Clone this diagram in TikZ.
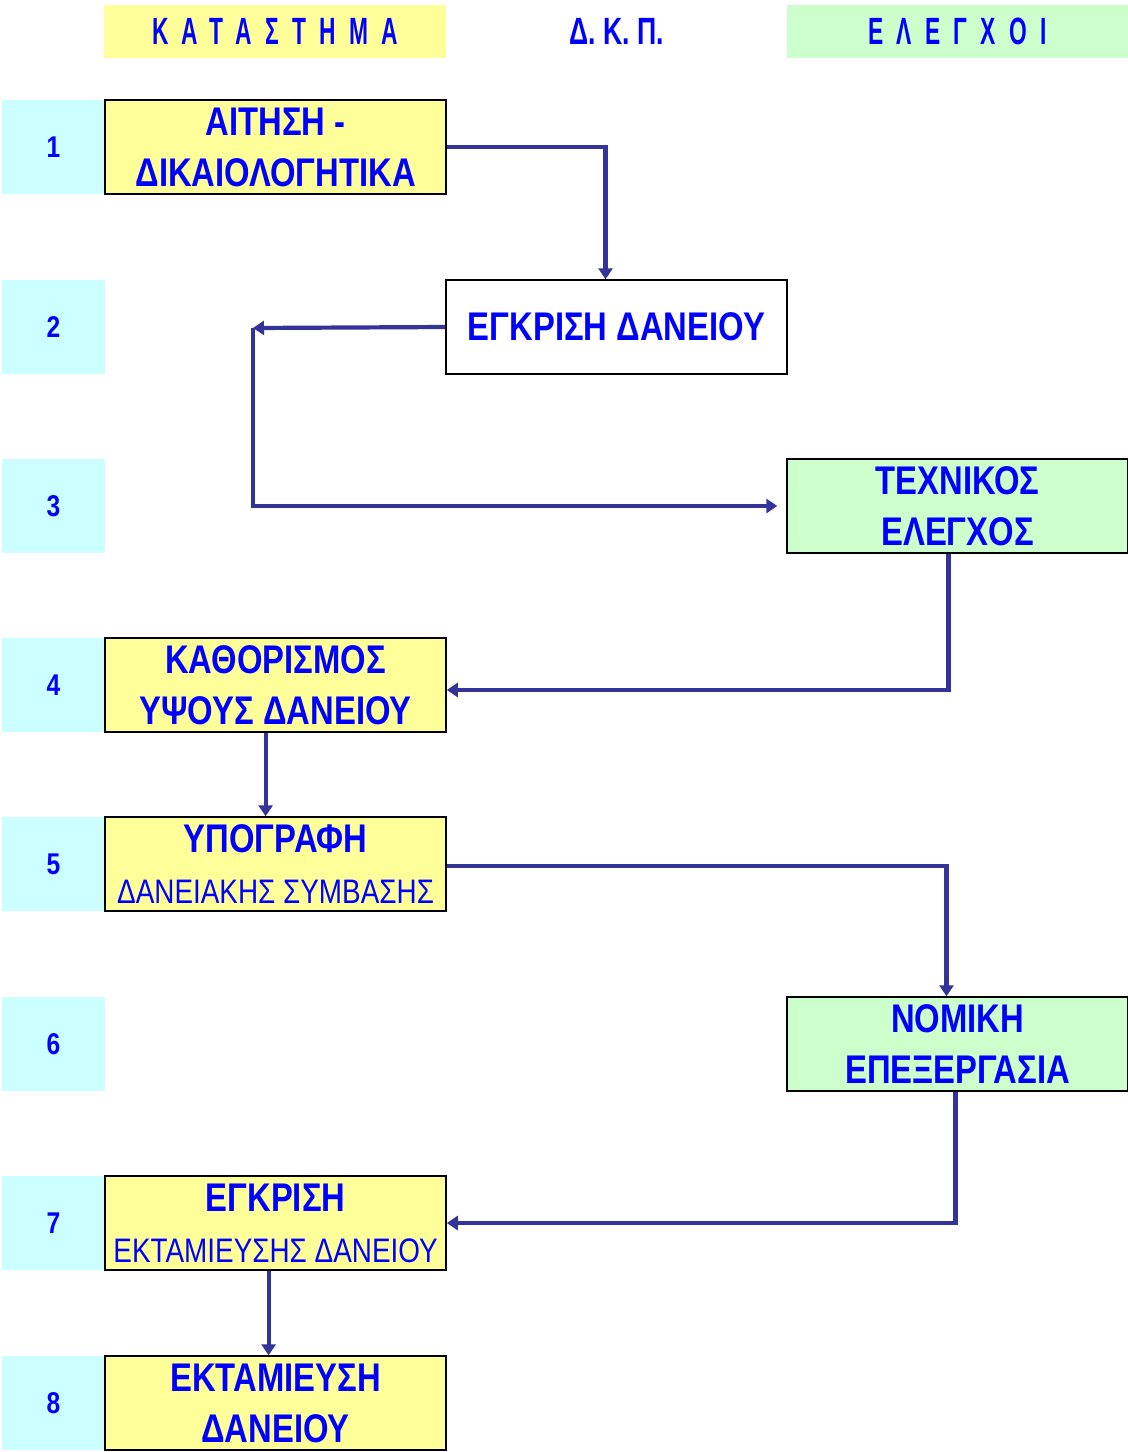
\documentclass[tikz,border=0pt]{standalone}
\usepackage{fontspec}
\setmainfont{Liberation Sans}[FakeStretch=0.82]
\newfontfamily\headfont{Liberation Sans}[FakeStretch=0.6,LetterSpace=35]
\newfontfamily\dkpfont{Liberation Sans}[FakeStretch=0.7]
\usetikzlibrary{positioning,arrows.meta}
\definecolor{boxyellow}{HTML}{FFFF99}
\definecolor{boxgreen}{HTML}{CCFFCC}
\definecolor{boxcyan}{HTML}{CCFFFF}
\definecolor{txtblue}{HTML}{0000FF}
\definecolor{arrblue}{HTML}{333399}
\tikzstyle{stage}=  [draw=black,
line width=0.7pt,
minimum width=170.5pt,
minimum height=47pt,
inner sep=0pt,
align=center,
text=txtblue,
font=\bfseries\fontsize{20}{25.5}\selectfont,
]
\tikzstyle{numbox}= [fill=boxcyan,
minimum width=51.5pt,
minimum height=47pt,
inner sep=0pt,
text=txtblue,
font=\bfseries\fontsize{15}{18}\selectfont,
]
\tikzstyle{headbox}=[minimum width=171pt,
minimum height=26.5pt,
inner sep=0pt,
text=txtblue,
font=\headfont\bfseries\fontsize{19}{22}\selectfont,
]
\tikzstyle{conn}=   [draw=arrblue,
line width=2.1pt,
-{Triangle[length=5.5pt,width=7pt]},
]
\newcommand{\subline}[1]{{\mdseries\fontsize{17}{19}\selectfont #1}}

\begin{document}
\begin{tikzpicture}[x=0.5pt,y=-0.5pt]
        \useasboundingbox (0,0) rectangle (1128,1452);
        \node[headbox,fill=boxyellow] (hstore) at (275,31) {ΚΑΤΑΣΤΗΜΑ};
        \node[text=txtblue,font=\dkpfont\bfseries\fontsize{19}{22}\selectfont] (hdkp) at (617,31) {Δ. Κ. Π.};
        \node[headbox,fill=boxgreen] (hcheck) at (957.5,31) {ΕΛΕΓΧΟΙ};

        \foreach \i/\y in {1/147,2/327,3/506,4/685,5/864,6/1044,7/1223,8/1403}
            \node[numbox] (n\i) at (53.5,\y) {\i};

        \node[stage,fill=boxyellow,right=-0.5pt of n1] (a1) {ΑΙΤΗΣΗ -\\ΔΙΚΑΙΟΛΟΓΗΤΙΚΑ};
        \node[stage,fill=white] (a2) at (616.5,327) {ΕΓΚΡΙΣΗ ΔΑΝΕΙΟΥ};
        \node[stage,fill=boxgreen] (a3) at (957.5,506) {ΤΕΧΝΙΚΟΣ\\ΕΛΕΓΧΟΣ};
        \node[stage,fill=boxyellow,right=-0.5pt of n4] (a4) {ΚΑΘΟΡΙΣΜΟΣ\\ΥΨΟΥΣ ΔΑΝΕΙΟΥ};
        \node[stage,fill=boxyellow,right=-0.5pt of n5] (a5) {ΥΠΟΓΡΑΦΗ\\\subline{ΔΑΝΕΙΑΚΗΣ ΣΥΜΒΑΣΗΣ}};
        \node[stage,fill=boxgreen] (a6) at (957.5,1044) {ΝΟΜΙΚΗ\\ΕΠΕΞΕΡΓΑΣΙΑ};
        \node[stage,fill=boxyellow,right=-0.5pt of n7] (a7) {ΕΓΚΡΙΣΗ\\\subline{ΕΚΤΑΜΙΕΥΣΗΣ ΔΑΝΕΙΟΥ}};
        \node[stage,fill=boxyellow,right=-0.5pt of n8] (a8) {ΕΚΤΑΜΙΕΥΣΗ\\ΔΑΝΕΙΟΥ};

        \coordinate (turn) at (253,328);

        \draw[conn] (a1.east) -| ([xshift=-5.5pt]a2.north);
        \draw[conn] (a2.west) -- (turn);
        \draw[conn,shorten >=4.5pt] (turn) |- (a3.west);
        \draw[conn] ([xshift=-4.5pt]a3.south) |- ([yshift=-2.5pt]a4.east);
        \draw[conn] ([xshift=-5pt]a4.south) -- ([xshift=-5pt]a5.north);
        \draw[conn] ([yshift=-1pt]a5.east) -| ([xshift=-5.5pt]a6.north);
        \draw[conn] ([xshift=-1pt]a6.south) |- (a7.east);
        \draw[conn] ([xshift=-3.5pt]a7.south) -- ([xshift=-3.5pt]a8.north);
    \end{tikzpicture}
\end{document}
